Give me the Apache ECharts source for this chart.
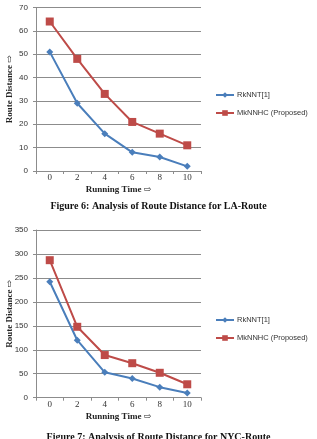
<!DOCTYPE html>
<html>
<head>
<meta charset="utf-8">
<script src="https://cdn.jsdelivr.net/npm/echarts@6/dist/echarts.min.js"></script>
<style>
  html, body { margin: 0; padding: 0; background: #fff; }
  #main { width: 317px; height: 439px; }
</style>
</head>
<body>
<div id="main"></div>
<script>
// running time categories, shared by both figures
var times = ['0', '2', '4', '6', '8', '10'];

// Figure 6: LA-Route
var laRkNNT = [51, 29, 16, 8, 6, 2];
var laMkNNHC = [64, 48, 33, 21, 16, 11];

// Figure 7: NYC-Route
var nycRkNNT = [242, 120, 53, 40, 22, 10];
var nycMkNNHC = [287, 148, 89, 72, 52, 28];

var blue = '#4A7EBB';
var red = '#BE4B48';
var serif = '"Liberation Serif", "DejaVu Serif", serif';
var sans = '"Liberation Sans", Arial, sans-serif';

function xAxisFor(idx) {
  return {
    type: 'category', gridIndex: idx, data: times,
    boundaryGap: true,
    axisLine: { lineStyle: { color: '#8c8c8c', width: 1 } },
    axisTick: { show: true, length: 3, lineStyle: { color: '#8c8c8c' } },
    axisLabel: { fontFamily: serif, fontSize: 9, color: '#333', margin: 2 },
    name: 'Running Time \u21E8', nameLocation: 'middle', nameGap: 14,
    nameMoveOverlap: false,
    nameTextStyle: { fontFamily: serif, fontWeight: 'bold', fontSize: 9, color: '#222' }
  };
}

function yAxisFor(idx, max, interval) {
  return {
    type: 'value', gridIndex: idx, min: 0, max: max, interval: interval,
    axisLine: { show: true, lineStyle: { color: '#8c8c8c', width: 1 } },
    axisTick: { show: true, length: 3, lineStyle: { color: '#8c8c8c' } },
    splitLine: { lineStyle: { color: '#8c8c8c', width: 1 } },
    axisLabel: { fontFamily: sans, fontSize: 8, color: '#333', margin: 8 },
    name: 'Route Distance \u21E8', nameLocation: 'middle', nameRotate: 90,
    nameGap: 22, nameMoveOverlap: false,
    nameTextStyle: { fontFamily: serif, fontWeight: 'bold', fontSize: 9, color: '#222' }
  };
}

function lineFor(name, idx, data, color, symbol, size) {
  return {
    name: name, type: 'line', xAxisIndex: idx, yAxisIndex: idx,
    data: data, symbol: symbol, symbolSize: size,
    lineStyle: { color: color, width: 2 },
    itemStyle: { color: color },
    animation: false
  };
}

var legendText = { fontFamily: sans, fontSize: 7.5, color: '#333', padding: [0, 0, 0, -2] };

var chart = echarts.init(document.getElementById('main'));
chart.setOption({
  backgroundColor: '#fff',
  title: [
    {
      text: 'Figure 6: Analysis of Route Distance for LA-Route',
      left: 'center', top: 196,
      textStyle: { fontFamily: serif, fontWeight: 'bold', fontSize: 10, color: '#111' }
    },
    {
      text: 'Figure 7: Analysis of Route Distance for NYC-Route',
      left: 'center', top: 427,
      textStyle: { fontFamily: serif, fontWeight: 'bold', fontSize: 10, color: '#111' }
    }
  ],
  legend: [
    {
      left: 210, top: 86, orient: 'vertical', itemGap: 10,
      itemWidth: 18, itemHeight: 7,
      textStyle: legendText,
      data: ['RkNNT[1]', 'MkNNHC (Proposed)']
    },
    {
      left: 210, top: 311, orient: 'vertical', itemGap: 10,
      itemWidth: 18, itemHeight: 7,
      textStyle: legendText,
      data: ['RkNNT[1]', 'MkNNHC (Proposed)']
    }
  ],
  grid: [
    { left: 36, right: 116, top: 7.5, bottom: 268, outerBoundsMode: 'none' },
    { left: 36, right: 116, top: 230, bottom: 41.3, outerBoundsMode: 'none' }
  ],
  xAxis: [xAxisFor(0), xAxisFor(1)],
  yAxis: [yAxisFor(0, 70, 10), yAxisFor(1, 350, 50)],
  series: [
    lineFor('RkNNT[1]', 0, laRkNNT, blue, 'diamond', 7),
    lineFor('MkNNHC (Proposed)', 0, laMkNNHC, red, 'rect', 8),
    lineFor('RkNNT[1]', 1, nycRkNNT, blue, 'diamond', 7),
    lineFor('MkNNHC (Proposed)', 1, nycMkNNHC, red, 'rect', 8)
  ]
});
</script>
</body>
</html>
